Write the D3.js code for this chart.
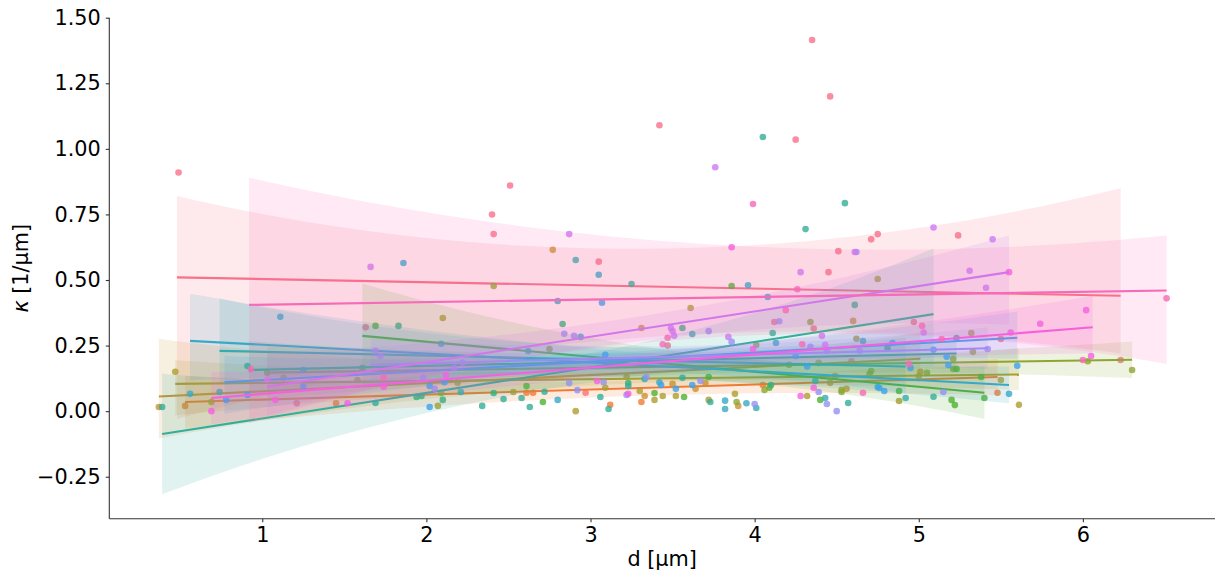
<!DOCTYPE html>
<html><head><meta charset="utf-8">
<script src="https://cdn.jsdelivr.net/npm/d3@7"></script>
<style>body{margin:0;background:#fff}svg{display:block}text{font-family:"DejaVu Sans",sans-serif}</style>
</head><body><svg id="c" width="1225" height="578"></svg>
<script>
// ---- data ----
const groups = ["0","1","2","3","4","5","6","7","8","9","10","11","12","13","14"];
const xTicks = [1,2,3,4,5,6];
const yTicks = [-0.25,0,0.25,0.5,0.75,1.0,1.25,1.5];
// fitted regression line end points per group
const lineX0 = [0.48,0.53,0.37,0.47,1.03,1.61,0.92,0.39,0.74,0.56,0.77,1.66,1.03,0.69,0.92];
const lineX1 = [6.23,5.48,5.01,5.61,6.30,5.40,5.23,5.09,4.92,5.55,5.60,5.42,5.55,6.06,6.51];
const lineY0 = [0.51,0.035,0.056,0.104,0.147,0.287,0.157,-0.087,0.23,0.268,0.11,0.177,0.093,0.05,0.405];
const lineY1 = [0.44,0.13,0.20,0.14,0.196,0.07,0.22,0.37,0.17,0.10,0.28,0.24,0.53,0.32,0.46];
// confidence band: x of narrowest point, and upper/lower offsets at [start, mid, end]
const ciMidX = [3.6,3.2,3.0,3.3,3.8,3.6,3.2,3.2,3.0,3.2,3.3,3.6,3.5,3.5,3.8];
const ciUp = [[0.31,0.15,0.41],[0.10,0.03,0.07],[0.22,0.05,0.10],[0.09,0.03,0.10],[0.10,0.03,0.07],
  [0.20,0.05,0.10],[0.11,0.03,0.06],[0.23,0.06,0.25],[0.20,0.05,0.11],[0.18,0.05,0.07],
  [0.10,0.03,0.10],[0.10,0.04,0.08],[0.13,0.05,0.14],[0.10,0.04,0.12],[0.485,0.20,0.21]];
const ciLo = [[0.54,0.18,0.22],[0.10,0.03,0.07],[0.16,0.04,0.09],[0.12,0.03,0.06],[0.10,0.03,0.07],
  [0.20,0.05,0.10],[0.10,0.03,0.06],[0.23,0.06,0.20],[0.13,0.04,0.10],[0.15,0.05,0.07],
  [0.12,0.03,0.08],[0.08,0.03,0.08],[0.11,0.05,0.20],[0.10,0.04,0.10],[0.45,0.15,0.28]];
// scatter points [d, kappa, group]
const points = [
 [0.49,0.91,0],[2.51,0.86,0],[2.40,0.75,0],[2.41,0.675,0],[3.42,1.09,0],[4.35,1.415,0],[4.46,1.20,0],[4.25,1.035,0],
 [4.51,0.61,0],[4.45,0.53,0],[4.71,0.655,0],[4.75,0.675,0],[5.24,0.67,0],[3.05,0.57,0],[1.63,0.32,0],[4.12,0.34,0],
 [4.36,0.315,0],[3.47,0.25,0],[2.97,0.07,0],[1.21,0.03,0],[4.97,0.34,0],[5.50,0.275,0],[6.23,0.195,0],[4.59,0.19,0],
 [0.53,0.02,1],[2.61,0.07,1],[2.65,0.07,1],[3.12,0.024,1],[3.31,0.035,1],[5.48,0.07,1],[1.45,0.03,1],[4.05,0.10,1],
 [0.37,0.016,2],[2.77,0.615,2],[3.33,0.058,2],[3.31,0.317,2],[3.50,0.104,2],[3.70,0.107,2],[3.64,0.085,2],[3.90,0.02,2],
 [4.60,0.344,2],[4.49,0.134,2],[4.46,0.108,2],[4.56,0.085,2],[5.01,0.15,2],
 [0.47,0.15,3],[0.69,0.035,3],[2.07,0.02,3],[2.10,0.355,3],[2.19,0.108,3],[2.53,0.073,3],[2.91,0.0,3],[3.09,0.089,3],
 [3.22,0.131,3],[3.30,0.077,3],[3.44,0.058,3],[3.39,0.043,3],[3.52,0.058,3],[3.61,0.393,3],[3.72,0.043,3],[3.88,0.066,3],
 [4.01,0.252,3],[4.32,0.058,3],[4.39,0.184,3],[4.53,0.081,3],[4.62,0.276,3],[4.75,0.504,3],[4.88,0.039,3],[5.00,0.134,3],
 [5.32,0.298,3],[5.33,0.226,3],[5.50,0.119,3],[5.61,0.024,3],
 [1.03,0.146,4],[1.13,0.127,4],[1.58,0.119,4],[2.09,0.069,4],[2.41,0.477,4],[2.75,0.237,4],[3.89,0.035,4],[4.06,0.081,4],
 [4.21,0.177,4],[4.34,0.34,4],[4.53,0.073,4],[4.70,0.142,4],[4.71,0.153,4],[5.21,0.20,4],[5.21,0.161,4],[5.05,0.146,4],
 [6.03,0.19,4],[6.30,0.157,4],
 [1.61,0.165,5],[1.69,0.325,5],[2.71,0.035,5],[2.61,0.096,5],[3.39,0.069,5],[3.57,0.054,5],[3.72,0.13,5],[3.86,0.477,5],
 [4.09,0.089,5],[4.40,0.043,5],[5.23,0.161,5],[5.38,0.13,5],[5.20,0.043,5],[5.22,0.023,5],[5.40,0.05,5],[4.88,0.077,5],
 [0.91,0.172,6],[1.83,0.325,6],[1.94,0.054,6],[1.97,0.058,6],[2.10,0.043,6],[2.83,0.332,6],[3.56,0.317,6],[3.23,0.107,6],
 [4.61,0.405,6],[4.81,0.24,6],[5.23,0.279,6],[2.41,0.069,6],[4.10,0.10,6],
 [0.39,0.016,7],[1.69,0.031,7],[2.34,0.02,7],[2.63,0.016,7],[2.58,0.05,7],[2.47,0.046,7],[2.72,0.074,7],[3.11,0.008,7],
 [3.06,0.054,7],[3.23,0.096,7],[3.25,0.485,7],[3.73,0.035,7],[3.56,0.127,7],[4.05,1.045,7],[4.31,0.694,7],[4.55,0.793,7],
 [4.11,0.298,7],[4.57,0.031,7],[4.37,0.115,7],[5.09,0.055,7],
 [0.74,0.073,8],[2.09,0.257,8],[2.91,0.576,8],[2.62,0.229,8],[3.33,0.123,8],[3.62,0.294,8],[4.66,0.267,8],[4.43,0.05,8],
 [4.01,0.012,8],[4.92,0.05,8],[2.21,0.073,8],[1.25,0.157,8],
 [0.56,0.066,9],[1.11,0.36,9],[1.86,0.565,9],[2.80,0.42,9],[3.05,0.52,9],[2.80,0.043,9],[2.94,0.283,9],[3.42,0.11,9],
 [3.82,0.04,9],[3.82,0.008,9],[3.95,0.03,9],[3.96,0.48,9],[4.08,0.435,9],[4.13,0.26,9],[4.75,0.092,9],[5.55,0.066,9],
 [0.78,0.043,10],[0.91,0.062,10],[1.25,0.093,10],[2.02,0.096,10],[2.02,0.016,10],[2.11,0.11,10],[3.09,0.215,10],[3.07,0.413,10],
 [3.43,0.10,10],[3.52,0.085,10],[3.62,0.10,10],[4.25,0.21,10],[4.32,0.17,10],[4.84,0.26,10],[5.09,0.234,10],[5.17,0.207,10],
 [5.18,0.176,10],[4.95,0.165,10],[5.60,0.173,10],[4.79,0.077,10],[4.76,0.088,10],
 [1.69,0.23,11],[1.72,0.21,11],[1.98,0.127,11],[2.05,0.085,11],[2.17,0.165,11],[2.22,0.185,11],[2.84,0.295,11],[2.90,0.287,11],
 [2.87,0.107,11],[2.92,0.08,11],[3.08,0.11,11],[3.22,0.062,11],[3.34,0.13,11],[3.67,0.115,11],[3.72,0.305,11],[3.86,0.264,11],
 [4.00,0.027,11],[4.15,0.343,11],[4.34,0.245,11],[4.44,0.23,11],[4.44,0.027,11],[4.50,0.0,11],[4.39,0.073,11],[4.62,0.607,11],
 [4.64,0.23,11],[5.15,0.073,11],[5.42,0.237,11],
 [1.03,0.12,12],[1.66,0.55,12],[2.87,0.675,12],[3.49,0.317,12],[3.50,0.305,12],[3.51,0.287,12],[3.76,0.93,12],[3.84,0.283,12],
 [4.28,0.53,12],[4.41,0.287,12],[4.43,0.253,12],[4.61,0.607,12],[5.09,0.70,12],[5.31,0.535,12],[5.45,0.655,12],[5.41,0.47,12],
 [5.03,0.30,12],
 [0.69,0.0,13],[1.08,0.043,13],[1.52,0.03,13],[1.74,0.093,13],[2.12,0.138,13],[3.23,0.066,13],[3.04,0.115,13],[3.86,0.625,13],
 [3.99,0.237,13],[4.36,0.089,13],[4.28,0.058,13],[5.56,0.30,13],[5.55,0.53,13],[5.74,0.333,13],[6.02,0.385,13],[6.05,0.21,13],
 [0.93,0.16,14],[3.99,0.79,14],[3.44,0.255,14],[3.47,0.28,14],[4.26,0.465,14],[4.19,0.385,14],[4.29,0.255,14],[5.02,0.325,14],
 [5.14,0.275,14],[6.00,0.195,14],[6.51,0.43,14],[4.94,0.18,14],[4.66,0.07,14],[1.74,0.127,14]
];

// ---- husl palette (as seaborn) ----
const Mx = [[3.2406,-1.5372,-0.4986],[-0.9689,1.8758,0.0415],[0.0557,-0.2040,1.0570]];
const refU = 0.19784, refV = 0.46834;
function maxChroma(L, H) {
  const hr = H * Math.PI / 180, sinH = Math.sin(hr), cosH = Math.cos(hr);
  const sub1 = Math.pow(L + 16, 3) / 1560896;
  const sub2 = sub1 > 0.008856 ? sub1 : L / 903.3;
  let res = Infinity;
  for (const [m1, m2, m3] of Mx) {
    const top = (0.99915 * m1 + 1.05122 * m2 + 1.14460 * m3) * sub2;
    const rb = 0.86330 * m3 - 0.17266 * m2, lb = 0.12949 * m3 - 0.38848 * m1;
    const bottom = (rb * sinH + lb * cosH) * sub2;
    for (const t of [0, 1]) {
      const C = L * (top - 1.05122 * t) / (bottom + 0.17266 * sinH * t);
      if (C > 0 && C < res) res = C;
    }
  }
  return res;
}
function husl(H, S, L) {
  const C = maxChroma(L, H) / 100 * S;
  const hr = H * Math.PI / 180, U = Math.cos(hr) * C, V = Math.sin(hr) * C;
  const varY = L > 8 ? Math.pow((L + 16) / 116, 3) : L / 903.3;
  const vu = U / (13 * L) + refU, vv = V / (13 * L) + refV;
  const Y = varY, X = -(9 * Y * vu) / ((vu - 4) * vv - vu * vv);
  const Z = (9 * Y - 15 * vv * Y - vv * X) / (3 * vv);
  const rgb = Mx.map(r => {
    const c = r[0] * X + r[1] * Y + r[2] * Z;
    let v = c <= 0.0031308 ? 12.92 * c : 1.055 * Math.pow(c, 1 / 2.4) - 0.055;
    return Math.round(Math.max(0, Math.min(1, v)) * 255);
  });
  return d3.rgb(...rgb).formatHex();
}
const n = groups.length;
const colors = groups.map((g, i) => husl(((i / n + 0.01) % 1) * 359, 0.9 * 99, 0.65 * 99));

// ---- layout ----
const svg = d3.select("#c");
const L = 109.3, R = 1215, T = 17.7, B = 518.7;
const x = d3.scaleLinear().domain([0.068, 6.805]).range([L, R]);
const y = d3.scaleLinear().domain([-0.41, 1.5]).range([B, T]);

const plot = svg.append("g");
groups.forEach((g, i) => {
  const c = colors[i];
  // scatter
  plot.append("g").selectAll("circle").data(points.filter(p => p[2] === i)).join("circle")
    .attr("cx", d => x(d[0])).attr("cy", d => y(d[1])).attr("r", 3.3)
    .attr("fill", c).attr("fill-opacity", 0.8);
  // band
  const x0 = lineX0[i], x1 = lineX1[i], xm = ciMidX[i];
  const lagr = (v, xx) => {
    const a = (xx - xm) * (xx - x1) / ((x0 - xm) * (x0 - x1));
    const b = (xx - x0) * (xx - x1) / ((xm - x0) * (xm - x1));
    const d = (xx - x0) * (xx - xm) / ((x1 - x0) * (x1 - xm));
    return Math.max(0.005, v[0] * a + v[1] * b + v[2] * d);
  };
  const fit = xx => lineY0[i] + (lineY1[i] - lineY0[i]) * (xx - x0) / (x1 - x0);
  const xs = d3.range(0, 61).map(k => x0 + (x1 - x0) * k / 60);
  const area = d3.area().x(d => x(d)).y0(d => y(fit(d) - lagr(ciLo[i], d))).y1(d => y(fit(d) + lagr(ciUp[i], d)));
  plot.append("path").attr("d", area(xs)).attr("fill", c).attr("fill-opacity", 0.15);
  // line
  plot.append("path").attr("d", d3.line().x(d => x(d[0])).y(d => y(d[1]))([[x0, lineY0[i]], [x1, lineY1[i]]]))
    .attr("stroke", c).attr("stroke-width", 2.1).attr("fill", "none");
});

// ---- axes ----
const fmtY = v => (v < 0 ? "\u2212" : "") + Math.abs(v).toFixed(2);
const ax = svg.append("g").attr("transform", `translate(0,${B})`)
  .call(d3.axisBottom(x).tickValues(xTicks).tickFormat(d3.format("d")).tickSize(3.5).tickPadding(5));
const ay = svg.append("g").attr("transform", `translate(${L},0)`)
  .call(d3.axisLeft(y).tickValues(yTicks).tickFormat(fmtY).tickSize(3.5).tickPadding(5));
[ax, ay].forEach(a => {
  a.select(".domain").attr("stroke", "#333").attr("stroke-width", 1.1);
  a.selectAll(".tick line").attr("stroke", "#333").attr("stroke-width", 1.1);
  a.selectAll(".tick text").attr("fill", "#000").style("font-size", "20.8px").style("font-family", "DejaVu Sans");
});
ax.select(".domain").attr("d", `M${L},0H${R}`);
ay.select(".domain").attr("d", `M0,${T}V${B}`);

svg.append("text").attr("x", (L + R) / 2).attr("y", 566).attr("text-anchor", "middle")
  .style("font-size", "20.8px").text("d [µm]");
const yl = svg.append("text").attr("transform", `translate(28,${(T + B) / 2}) rotate(-90)`)
  .attr("text-anchor", "middle").style("font-size", "20.8px");
yl.append("tspan").style("font-style", "italic").text("κ");
yl.append("tspan").text(" [1/µm]");
</script></body></html>
